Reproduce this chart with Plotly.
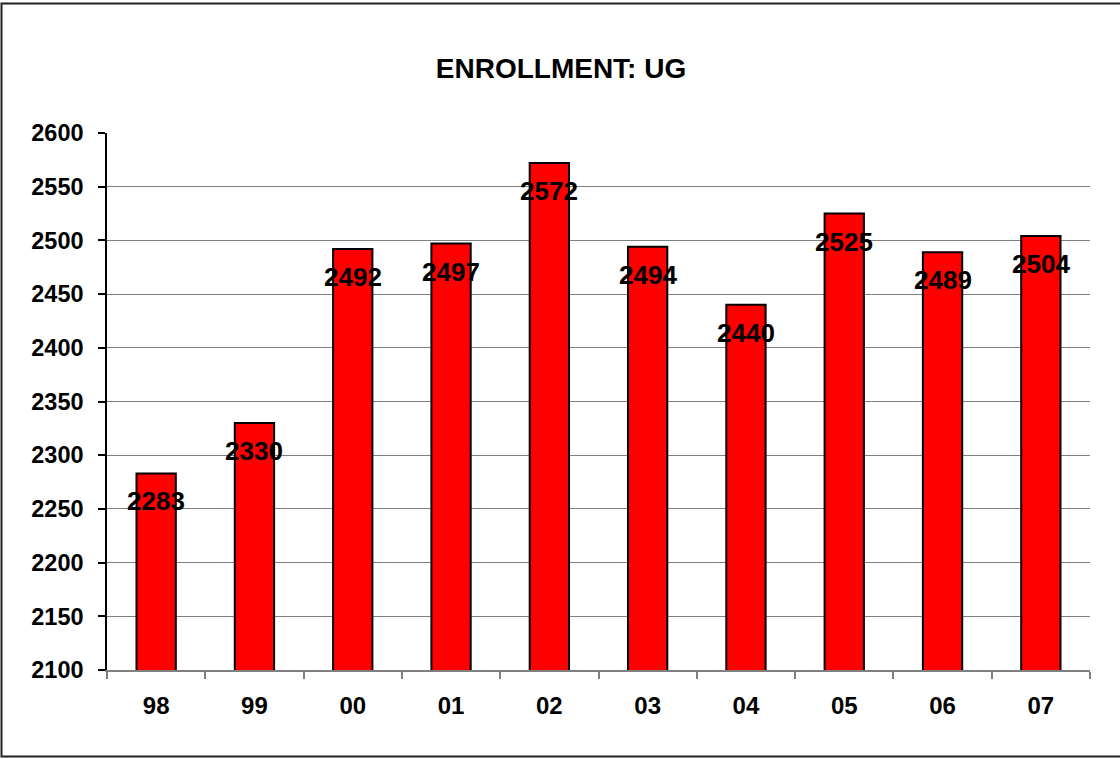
import plotly.graph_objects as go

categories = ["98", "99", "00", "01", "02", "03", "04", "05", "06", "07"]
enrollment = [2283, 2330, 2492, 2497, 2572, 2494, 2440, 2525, 2489, 2504]
y_ticks = [2100, 2150, 2200, 2250, 2300, 2350, 2400, 2450, 2500, 2550, 2600]
title_text = "ENROLLMENT: UG"

FONT = "Liberation Sans, Arial, sans-serif"

fig = go.Figure()
fig.add_trace(go.Bar(
    x=categories, y=enrollment,
    marker=dict(color="#FF0000", line=dict(color="#000000", width=2)),
    hoverinfo="x+y",
))

# annotations placed on the category axis by category index
for i, v in enumerate(enrollment):
    fig.add_annotation(
        x=i, y=v, text=f"<b>{v}</b>", showarrow=False,
        xanchor="center", yanchor="middle", yshift=-28,
        font=dict(family=FONT, size=26, color="#000000"),
    )

L, R, T, B = 107, 30, 133, 89
W, H = 1120, 759
pw, ph = W - L - R, H - T - B

def px_x(x):
    return (x - L) / pw

def px_y(y):
    return (H - B - y) / ph

fig.add_shape(type="rect", xref="paper", yref="paper",
              x0=px_x(1.5), x1=px_x(1130), y0=px_y(3.5), y1=px_y(756.5),
              line=dict(color="#222222", width=2), fillcolor="rgba(0,0,0,0)", layer="above")

fig.update_layout(
    width=W, height=H,
    margin=dict(l=L, r=R, t=T, b=B, pad=0, autoexpand=False),
    paper_bgcolor="white", plot_bgcolor="white",
    bargap=0.6,
    showlegend=False,
    title=dict(text=f"<b>{title_text}</b>", x=561 / W, xref="container", xanchor="center",
               y=1 - 68 / H, yref="container", yanchor="middle",
               font=dict(family=FONT, size=28, color="#000000")),
    font=dict(family=FONT, color="#000000"),
)

fig.update_xaxes(
    type="category",
    range=[-0.5, len(categories) - 0.5],
    showline=True, linecolor="#808080", linewidth=1.5,
    ticks="outside", ticklen=7, tickcolor="#808080", tickwidth=1.5,
    tickson="boundaries",
    tickangle=0,
    automargin=False,
    tickfont=dict(family=FONT, size=24, color="#000000"),
    tickprefix="<b>", ticksuffix="</b>",
    ticklabelstandoff=13,
    showgrid=False,
)

fig.update_yaxes(
    range=[2100, 2600],
    automargin=False,
    tickvals=y_ticks, ticktext=[f"<b>{t}</b>" for t in y_ticks],
    showline=True, linecolor="#000000", linewidth=1.5,
    ticks="outside", ticklen=7, tickcolor="#000000", tickwidth=1.5,
    tickfont=dict(family=FONT, size=23.5, color="#000000"),
    ticklabelstandoff=10,
    showgrid=True, gridcolor="#808080", gridwidth=1,
    zeroline=False,
)

fig.write_html(
    "out.html",
    config={"displayModeBar": False},
    post_script="document.body.style.margin='0';document.body.style.padding='0';",
)
